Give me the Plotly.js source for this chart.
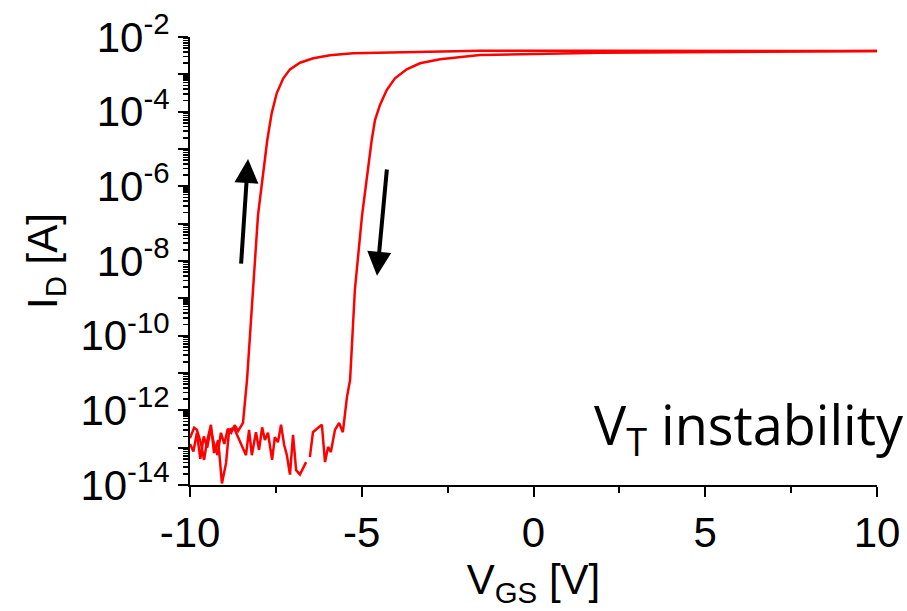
<!DOCTYPE html>
<html>
<head>
<meta charset="utf-8">
<script src="https://cdn.plot.ly/plotly-3.0.1.min.js"></script>
<style>html,body{margin:0;padding:0;background:#fff;}#chart{width:907px;height:611px;}</style>
</head>
<body>
<div id="chart"></div>
<script>
// Forward sweep (left curve)
const vgsForward = [-10,-9.9,-9.8,-9.7,-9.6,-9.5,-9.4,-9.3,-9.2,-9.1,-9.0,-8.9,-8.8,-8.7,-8.6,-8.5,
  -8.457,-8.34,-8.17,-8.02,-7.75,-7.622,-7.476,-7.284,-7.089,-6.798,-6.411,-5.925,-5.255,-4.469,-1.558,2,6,10];
const idForward = [1.26e-13,7.9e-14,2.5e-13,5.0e-14,2.0e-13,1.0e-13,3.2e-13,1.26e-13,6.3e-14,2.5e-13,1.26e-13,3.2e-13,2.5e-13,4.0e-13,2.8e-13,4.0e-13,
  4.6e-13,6.5e-12,1.7e-9,1.7e-7,1.74e-5,9.0e-5,3.1e-4,7.8e-4,1.36e-3,2.05e-3,2.69e-3,3.24e-3,3.66e-3,3.8e-3,4.3e-3,4.3e-3,4.25e-3,4.2e-3];

// Reverse sweep (right curve), null = gap in the record
const vgsReverse = [10,6,1.936,-1.558,-2.044,-2.722,-3.304,-3.691,-4.032,-4.274,-4.469,-4.614,-4.71,
  -4.99,-5.20,-5.34,-5.43,-5.49,-5.55,-5.66,-5.78,-5.90,-5.98,
  -6.07,-6.16,-6.27,-6.42,-6.51,-6.565,-6.62,-6.80,-6.91,-7.00,
  -7.09,-7.18,-7.26,-7.35,-7.44,-7.53,-7.61,-7.73,-7.82,-7.90,
  -7.99,-8.08,-8.20,-8.28,-8.37,-8.60,-8.72,-8.86,-8.95,-9.07,
  -9.18,-9.30,-9.39,-9.51,-9.59,-9.68,-9.80,-9.88,-10];
const idReverse = [4.2e-3,4.05e-3,3.8e-3,3.3e-3,2.97e-3,2.53e-3,1.98e-3,1.36e-3,7.8e-4,3.8e-4,1.51e-4,5.98e-5,1.74e-5,
  1.7e-7,1.7e-9,6.5e-12,2.3e-12,7.4e-13,2.6e-13,4.6e-13,3.0e-13,7.6e-14,1.05e-13,
  4.1e-14,4.1e-13,3.4e-13,2.6e-13,5.6e-14,null,4.1e-14,1.9e-14,2.5e-14,2.2e-13,
  1.9e-14,6.3e-14,1.2e-13,4.1e-13,1.4e-13,1.9e-13,4.7e-14,2.5e-13,1.6e-13,3.5e-13,
  8.7e-14,2.6e-13,6.3e-14,3.0e-13,6.3e-14,1.9e-13,3.4e-13,3.0e-13,3.9e-14,1.1e-14,
  1.6e-13,7.2e-14,4.1e-13,1.4e-13,4.7e-14,1.3e-13,3.0e-13,3.4e-13,1.8e-13];

const xTickVals = [-10,-5,0,5,10];
const xTickText = ['-10','-5','0','5','10'];
const yDecades = [-14,-13,-12,-11,-10,-9,-8,-7,-6,-5,-4,-3,-2];

const yTickVals = yDecades.map(d => Math.pow(10, d));
const yTickText = yDecades.map(d => (d % 2 === 0) ? '10<sup>' + d + '</sup>' : '');
const yMinor = [];
yDecades.slice(0, -1).forEach(d => { for (let k = 2; k <= 9; k++) yMinor.push(k * Math.pow(10, d)); });

const lineStyle = {color: '#ff0000', width: 2.5};
const traces = [
  {x: vgsForward, y: idForward, type: 'scatter', mode: 'lines', line: lineStyle, hoverinfo: 'skip'},
  {x: vgsReverse, y: idReverse, type: 'scatter', mode: 'lines', line: lineStyle, hoverinfo: 'skip', connectgaps: false}
];

const font = 'Liberation Sans, Arial, sans-serif';
const layout = {
  width: 907, height: 611,
  margin: {l: 190, r: 30, t: 37, b: 126, pad: 0},
  paper_bgcolor: '#fff', plot_bgcolor: '#fff',
  showlegend: false,
  xaxis: {
    range: [-10, 10], tickmode: 'array', tickvals: xTickVals, ticktext: xTickText,
    showgrid: false, zeroline: false, showline: true, linecolor: '#000', linewidth: 2,
    ticks: 'outside', ticklen: 10, tickwidth: 2, tickcolor: '#000',
    tickfont: {family: font, size: 42, color: '#000'},
    minor: {dtick: 2.5, ticks: 'outside', ticklen: 6, tickwidth: 2, tickcolor: '#000', showgrid: false},
    title: {text: 'V<sub>GS</sub> [V]', font: {family: font, size: 42, color: '#000'}, standoff: 8}
  },
  yaxis: {
    type: 'log', range: [-14, -2], tickmode: 'array', tickvals: yTickVals, ticktext: yTickText,
    showgrid: false, zeroline: false, showline: true, linecolor: '#000', linewidth: 2,
    ticks: 'outside', ticklen: 10, tickwidth: 2, tickcolor: '#000',
    tickfont: {family: font, size: 42, color: '#000'},
    minor: {tickmode: 'array', tickvals: yMinor, ticks: 'outside', ticklen: 5, tickwidth: 1.5, tickcolor: '#000', showgrid: false},
    title: {text: 'I<sub>D</sub> [A]', font: {family: font, size: 42, color: '#000'}, standoff: 10}
  },
  annotations: [
    {x: -8.31, y: Math.log10(5.4e-6), ax: -8.515, ay: Math.log10(7.8e-9), xref: 'x', yref: 'y', axref: 'x', ayref: 'y',
     showarrow: true, arrowhead: 2, arrowsize: 1.2, arrowwidth: 4, arrowcolor: '#000', text: '', standoff: 0},
    {x: -4.556, y: Math.log10(4.0e-9), ax: -4.265, ay: Math.log10(3.1e-6), xref: 'x', yref: 'y', axref: 'x', ayref: 'y',
     showarrow: true, arrowhead: 2, arrowsize: 1.2, arrowwidth: 4, arrowcolor: '#000', text: '', standoff: 0},
    {x: 1.042, y: 0.13, xref: 'paper', yref: 'paper', xanchor: 'right', yanchor: 'middle', showarrow: false,
     text: 'V<sub>T</sub> instability', font: {family: 'Open Sans, Noto Sans, sans-serif', size: 54, color: '#000'}}
  ]
};

Plotly.newPlot('chart', traces, layout, {staticPlot: true, displayModeBar: false});
</script>
</body>
</html>
